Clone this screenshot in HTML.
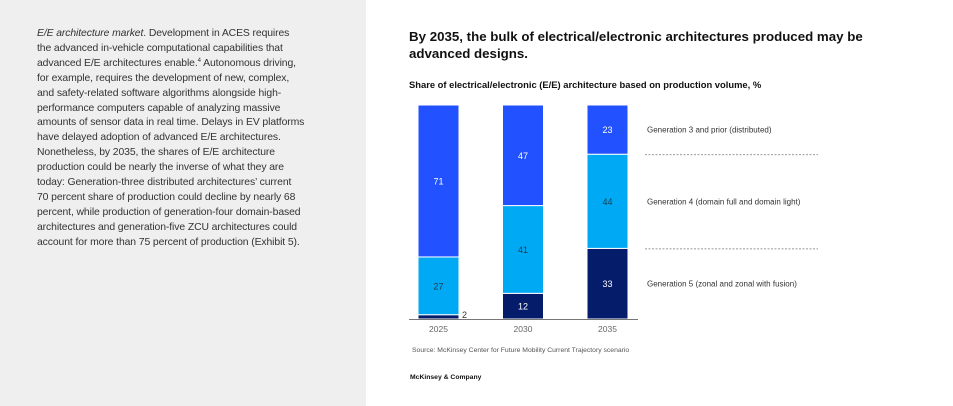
<!DOCTYPE html>
<html><head><meta charset="utf-8"><style>
body{margin:0;width:953px;height:406px;background:#fff;position:relative;overflow:hidden;font-family:"Liberation Sans",Arial,sans-serif}
#side{position:absolute;left:0;top:0;width:366px;height:406px;background:#efefef}
#side p{position:absolute;left:37px;top:27px;margin:0;font-size:10.4px;line-height:14.9px;color:#333;width:290px;letter-spacing:-0.1px}
sup{font-size:6px;line-height:0;vertical-align:4px}
.t{position:absolute;white-space:nowrap}
</style></head><body>
<div id="side">
<p><i>E/E architecture market</i>. Development in ACES requires<br>the advanced in-vehicle computational capabilities that<br>advanced E/E architectures enable.<sup>4</sup> Autonomous driving,<br>for example, requires the development of new, complex,<br>and safety-related software algorithms alongside high-<br>performance computers capable of analyzing massive<br>amounts of sensor data in real time. Delays in EV platforms<br>have delayed adoption of advanced E/E architectures.<br>Nonetheless, by 2035, the shares of E/E architecture<br>production could be nearly the inverse of what they are<br>today: Generation-three distributed architectures’ current<br>70 percent share of production could decline by nearly 68<br>percent, while production of generation-four domain-based<br>architectures and generation-five ZCU architectures could<br>account for more than 75 percent of production (Exhibit 5).</p>
</div>
<div class="t" style="left:409px;top:28px;font-size:13.3px;font-weight:bold;line-height:17px;color:#111">By 2035, the bulk of electrical/electronic architectures produced may be<br>advanced designs.</div>
<div class="t" style="left:409px;top:79px;font-size:9.4px;font-weight:bold;color:#111">Share of electrical/electronic (E/E) architecture based on production volume, %</div>
<svg id="chart" width="953" height="406" style="position:absolute;left:0;top:0"></svg>
<div class="t" style="left:412px;top:347px;font-size:6.8px;color:#555">Source: McKinsey Center for Future Mobility Current Trajectory scenario</div>
<div class="t" style="left:410px;top:374px;font-size:6.8px;font-weight:bold;color:#111">McKinsey &amp; Company</div>
<script>
const categories=["2025","2030","2035"];
const gen5=[2,12,33];
const gen4=[27,41,44];
const gen3=[71,47,23];
const seriesNames=["Generation 5 (zonal and zonal with fusion)","Generation 4 (domain full and domain light)","Generation 3 and prior (distributed)"];
const svg=document.getElementById('chart');const NS="http://www.w3.org/2000/svg";
const y0=319,H=214,barW=41,x0=418,step=84.5;
const y=v=>v/100*H;
const colors=["#051c6b","#00a9f4","#2251ff"];const txt=["#fff","#1a3a4a","#fff"];
function mk(t,a){const e=document.createElementNS(NS,t);for(const k in a)e.setAttribute(k,a[k]);svg.appendChild(e);return e;}
const series=[gen5,gen4,gen3];
categories.forEach((c,i)=>{
  let cum=0;const x=x0+i*step;
  series.forEach((s,j)=>{
    const v=s[i];const top=y0-y(cum+v);
    const r=mk('rect',{x:x,y:top,width:barW,height:y(v),fill:colors[j],stroke:'#fff','stroke-width':1});
    
    
    let tx=x+barW/2,ty=top+y(v)/2+3.5,anchor='middle',fill=txt[j];
    if(v<5){tx=x+barW+3;ty=y0-1;anchor='start';fill='#333';}
    const t=mk('text',{x:tx,y:ty,'text-anchor':anchor,'font-size':9,fill:fill,'font-family':'Liberation Sans, sans-serif'});
    t.textContent=v;
    
    
    cum+=v;
  });
  const l=mk('text',{x:x+barW/2,y:332,'text-anchor':'middle','font-size':8.5,fill:'#666','font-family':'Liberation Sans, sans-serif'});
  l.textContent=c;
  
  
});
const ax=mk('line',{x1:409,x2:638,y1:y0+0.5,y2:y0+0.5,stroke:'#777','stroke-width':1});


let cum=0;const last=categories.length-1;
series.forEach((s,j)=>{
  const v=s[last];const top=y0-y(cum+v);const mid=top+y(v)/2+3;
  const t=mk('text',{x:647,y:mid,'font-size':8,fill:'#333','font-family':'Liberation Sans, sans-serif'});
  t.textContent=seriesNames[j];
  
  
  if(j>0){const d=mk('line',{x1:645,x2:818,y1:y0-y(cum)+0.5,y2:y0-y(cum)+0.5,stroke:'#777','stroke-width':0.8,'stroke-dasharray':'2,1.5'});
    
    }
  cum+=v;
});
</script>
</body></html>
